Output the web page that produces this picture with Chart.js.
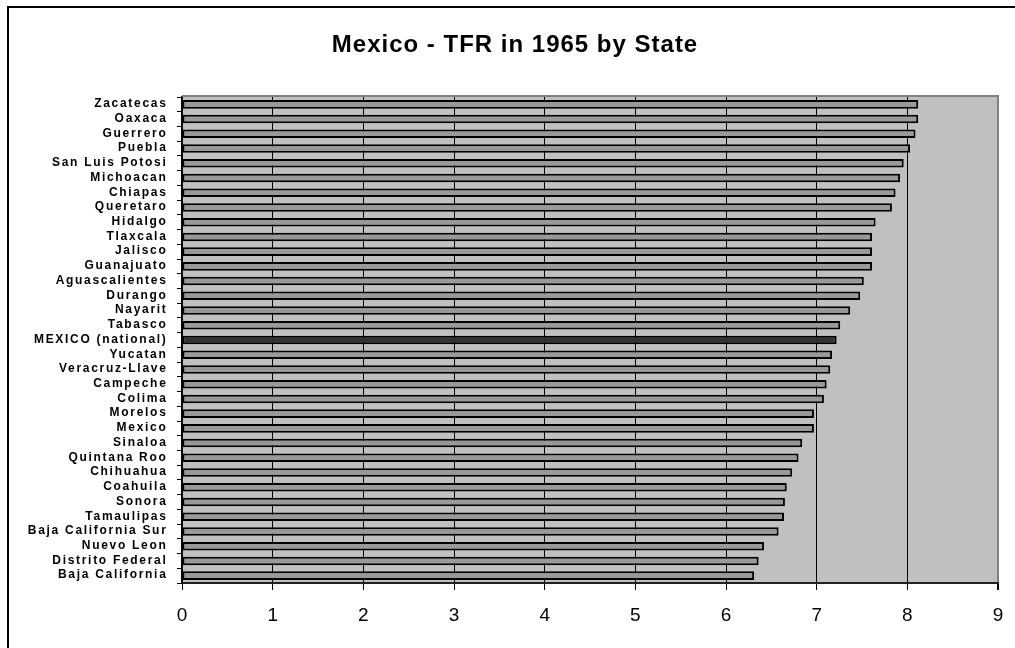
<!DOCTYPE html>
<html>
<head>
<meta charset="utf-8">
<script src="https://cdn.jsdelivr.net/npm/chart.js@4"></script>
<style>
  html, body { margin: 0; padding: 0; background: #ffffff; }
  canvas { display: block; }
</style>
</head>
<body>
<canvas id="chart" width="1015" height="648"></canvas>
<script>
// Total fertility rate by Mexican state, 1965 (highest first)
const states = [
  'Zacatecas', 'Oaxaca', 'Guerrero', 'Puebla', 'San Luis Potosi', 'Michoacan',
  'Chiapas', 'Queretaro', 'Hidalgo', 'Tlaxcala', 'Jalisco', 'Guanajuato',
  'Aguascalientes', 'Durango', 'Nayarit', 'Tabasco', 'MEXICO (national)',
  'Yucatan', 'Veracruz-Llave', 'Campeche', 'Colima', 'Morelos', 'Mexico',
  'Sinaloa', 'Quintana Roo', 'Chihuahua', 'Coahuila', 'Sonora', 'Tamaulipas',
  'Baja California Sur', 'Nuevo Leon', 'Distrito Federal', 'Baja California'
];
const tfr = [
  8.12, 8.12, 8.09, 8.03, 7.96, 7.92,
  7.87, 7.83, 7.65, 7.61, 7.61, 7.61,
  7.52, 7.48, 7.37, 7.26, 7.22,
  7.17, 7.15, 7.11, 7.08, 6.97, 6.97,
  6.84, 6.80, 6.73, 6.67, 6.65, 6.64,
  6.58, 6.42, 6.36, 6.31
];
const nationalLabel = 'MEXICO (national)';
const xTicks = [0, 1, 2, 3, 4, 5, 6, 7, 8, 9];
const chartTitle = 'Mexico - TFR in 1965 by State';

const FONT = '"Liberation Sans", Arial, sans-serif';

// Plot background, outer frame, title and the spaced state labels
const decorations = {
  id: 'decorations',
  beforeDraw(chart) {
    const { ctx, chartArea: a } = chart;
    ctx.save();
    ctx.fillStyle = '#ffffff';
    ctx.fillRect(0, 0, chart.width, chart.height);
    ctx.fillStyle = '#c0c0c0';
    ctx.fillRect(a.left, a.top, a.right - a.left, a.bottom - a.top);
    ctx.strokeStyle = '#000000';
    ctx.lineWidth = 2;
    ctx.strokeRect(8, 7, chart.width + 40, chart.height + 40);
    ctx.restore();
  },
  beforeDatasetsDraw(chart) {
    const { ctx, chartArea: a } = chart;
    ctx.save();
    ctx.strokeStyle = '#808080';
    ctx.lineWidth = 2;
    ctx.beginPath();
    ctx.moveTo(a.left, a.top - 1);
    ctx.lineTo(a.right + 1, a.top - 1);
    ctx.stroke();
    ctx.restore();
  },
  afterDraw(chart) {
    const { ctx } = chart;
    const yScale = chart.scales.y;
    ctx.save();
    ctx.fillStyle = '#000000';
    // title
    ctx.font = 'bold 24px ' + FONT;
    ctx.letterSpacing = '1px';
    ctx.textAlign = 'center';
    ctx.textBaseline = 'alphabetic';
    ctx.fillText(chartTitle, 515, 52);
    // category labels
    ctx.font = 'bold 12px ' + FONT;
    ctx.letterSpacing = '1.7px';
    ctx.textAlign = 'right';
    ctx.textBaseline = 'middle';
    states.forEach((s, i) => {
      ctx.fillText(s, yScale.left + 167.5, yScale.getPixelForTick(i) - 0.5);
    });
    ctx.restore();
  }
};

new Chart(document.getElementById('chart'), {
  type: 'bar',
  data: {
    labels: states,
    datasets: [{
      data: tfr,
      backgroundColor: states.map(s => s === nationalLabel ? '#333333' : '#999999'),
      borderColor: '#000000',
      borderWidth: 2,
      borderSkipped: false,
      categoryPercentage: 1,
      barPercentage: 0.58
    }]
  },
  options: {
    indexAxis: 'y',
    responsive: false,
    animation: false,
    devicePixelRatio: 1,
    layout: { padding: { top: 97, right: 17, left: 0, bottom: 0 } },
    plugins: {
      legend: { display: false },
      title: { display: false },
      tooltip: { enabled: false }
    },
    scales: {
      x: {
        type: 'linear',
        min: xTicks[0],
        max: xTicks[xTicks.length - 1],
        afterBuildTicks(scale) { scale.ticks = xTicks.map(v => ({ value: v })); },
        afterFit(scale) {
          scale.height = 65;
          scale.paddingLeft = 0;
          scale.paddingRight = 0;
        },
        grid: {
          color: ctx => (ctx.tick && ctx.tick.value === 9) ? '#808080' : '#000000',
          lineWidth: ctx => (ctx.tick && ctx.tick.value === 9) ? 2 : 1,
          tickColor: '#000000',
          tickLength: 7
        },
        border: { color: '#222222', width: 2 },
        ticks: {
          color: '#000000',
          font: { family: FONT, size: 19 },
          padding: 14,
          maxRotation: 0
        }
      },
      y: {
        type: 'category',
        afterFit(scale) { scale.width = 182; },
        grid: {
          offset: true,
          drawOnChartArea: false,
          drawTicks: true,
          tickLength: 5,
          color: '#000000'
        },
        border: { color: '#000000', width: 2 },
        ticks: { display: false }
      }
    }
  },
  plugins: [decorations]
});
</script>
</body>
</html>
